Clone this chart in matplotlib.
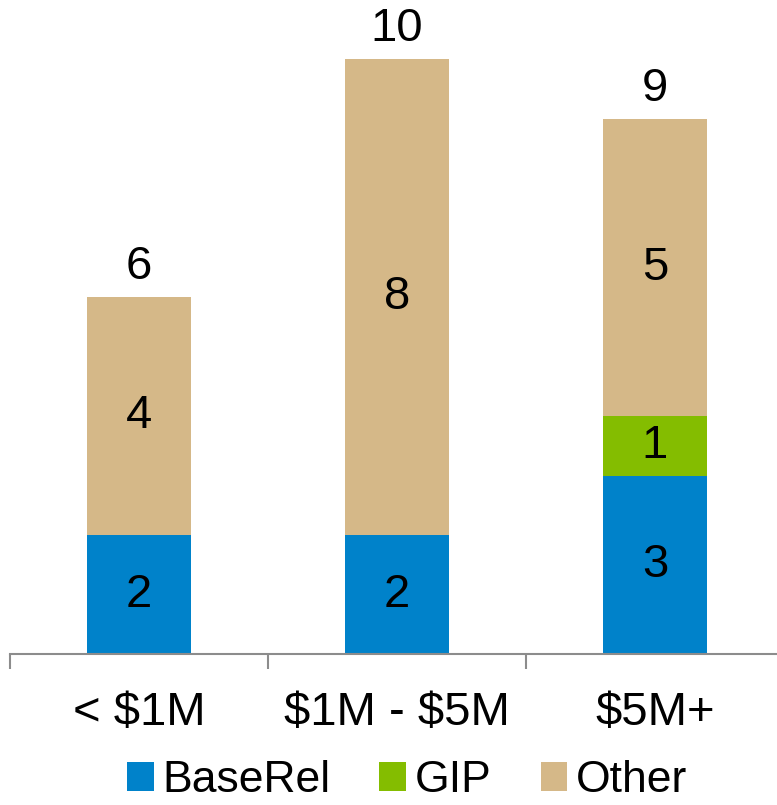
import matplotlib.pyplot as plt
import numpy as np

plt.rcParams['font.family'] = ['Liberation Sans', 'DejaVu Sans']
plt.rcParams['text.parse_math'] = False

# data
categories = ['< $1M', '$1M - $5M', '$5M+']
baserel = [2, 2, 3]
gip = [0, 0, 1]
other = [4, 8, 5]

c_blue = '#0082CA'
c_green = '#84BD00'
c_tan = '#D5B888'

fig = plt.figure(figsize=(7.77, 8.05), dpi=100)
ax = fig.add_axes([10 / 777, 1 - 654 / 805, 774 / 777, 654 / 805])

x = np.arange(len(categories))
w = 0.4
b1 = ax.bar(x, baserel, w, color=c_blue, label='BaseRel')
b2 = ax.bar(x, gip, w, bottom=baserel, color=c_green, label='GIP')
bot = np.array(baserel) + np.array(gip)
b3 = ax.bar(x, other, w, bottom=bot, color=c_tan, label='Other')

# segment labels
fs = 34
for i in range(len(x)):
    ax.text(x[i], baserel[i] / 2, str(baserel[i]), ha='center', va='center', fontsize=fs)
    if gip[i] > 0:
        ax.text(x[i], baserel[i] + gip[i] / 2, str(gip[i]), ha='center', va='center', fontsize=fs)
    ax.text(x[i], bot[i] + other[i] / 2, str(other[i]), ha='center', va='center', fontsize=fs)
    total = baserel[i] + gip[i] + other[i]
    ax.annotate(str(total), (x[i], total), xytext=(0, 6), textcoords='offset points',
                ha='center', va='bottom', fontsize=fs)

ax.set_xlim(-0.5, 2.5)
ax.set_ylim(0, 11)
for s in ['top', 'right', 'left']:
    ax.spines[s].set_visible(False)
ax.spines['bottom'].set_color('#8c8c8c')
ax.spines['bottom'].set_linewidth(1.5)
ax.set_yticks([])
ax.set_xticks(x)
ax.set_xticklabels(categories, fontsize=fs)
ax.tick_params(axis='x', which='major', length=0, pad=27)
ax.set_xticks([-0.5, 0.5, 1.5, 2.5], minor=True)
ax.tick_params(axis='x', which='minor', length=11, width=1.5, color='#8c8c8c')

fig.legend(handles=[b1, b2, b3], loc='lower center', bbox_to_anchor=(0.524, -0.045),
           ncol=3, frameon=False, fontsize=32, handlelength=0.6, handleheight=0.6,
           handletextpad=0.2, columnspacing=1.1)

fig.savefig('out.png', dpi=100)
